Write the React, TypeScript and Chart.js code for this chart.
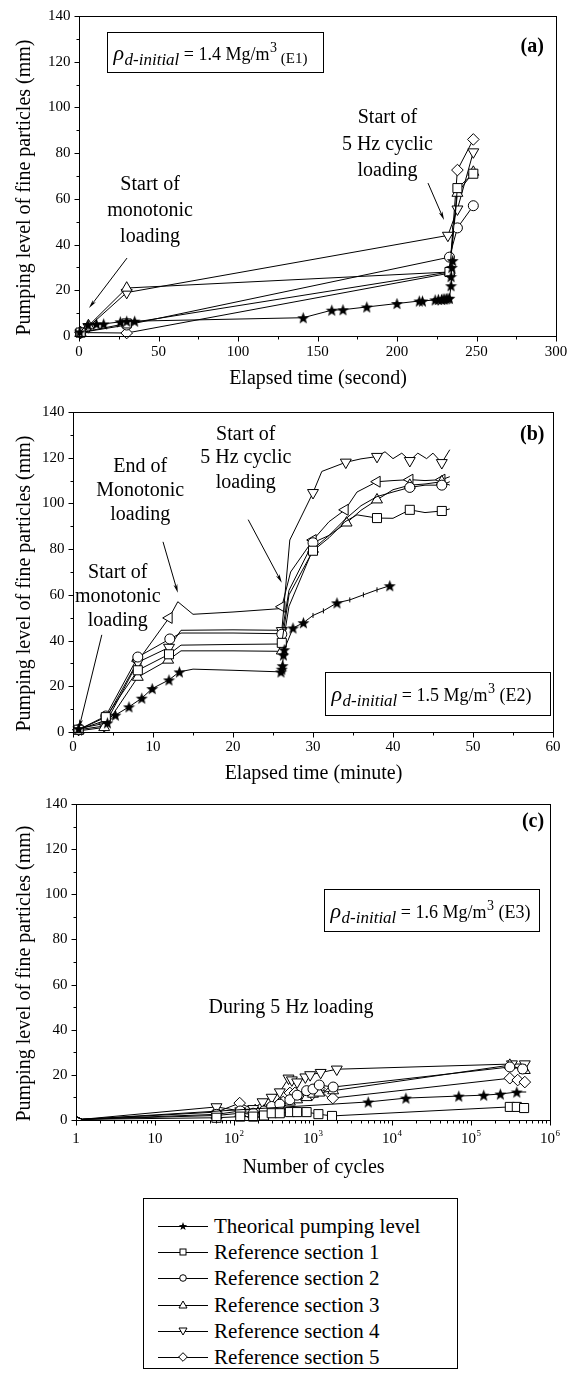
import React, { useEffect, useRef } from 'react';
import { Chart, registerables } from 'chart.js';

Chart.register(...registerables);

const FONT = '"Liberation Serif", "Times New Roman", Times, serif';

// ---------- shared text ----------
const SERIES_NAMES = [
  'Theorical pumping level',
  'Reference section 1',
  'Reference section 2',
  'Reference section 3',
  'Reference section 4',
  'Reference section 5',
];
const Y_TITLE = 'Pumping level of fine particles (mm)';
const Y_TICKS = [0, 20, 40, 60, 80, 100, 120, 140];
const Y_LABELS = ['0', '20', '40', '60', '80', '100', '120', '140'];
const Y_MINOR = [10, 30, 50, 70, 90, 110, 130];

// ---------- panel (a): elapsed time (second) ----------
const A_X_TICKS = [0, 50, 100, 150, 200, 250, 300];
const A_X_LABELS = ['0', '50', '100', '150', '200', '250', '300'];
const A_X_MINOR = [25, 75, 125, 175, 225, 275];

const A_STAR_T = [0.5, 5.7, 11, 15.5, 26, 30, 35, 141, 159, 166, 181, 200, 214, 216, 224, 226, 228, 229, 230, 231, 232, 233, 234, 234, 234.5, 235];
const A_STAR_V = [1.8, 5.0, 5.3, 5.3, 6.2, 6.5, 6.5, 8, 11.3, 11.5, 12.7, 14.2, 15.3, 15.3, 15.8, 16, 16, 16.2, 16.2, 16.3, 16.5, 16.5, 22, 26, 30, 33];
const A_SQ_T = [1, 30, 233, 238, 248];
const A_SQ_V = [1.5, 5.5, 28, 64.7, 71];
const A_CI_T = [1, 30, 233, 238, 248];
const A_CI_V = [1.5, 4.8, 34.5, 47.3, 57];
const A_UP_T = [1, 6, 30, 233, 238, 248];
const A_UP_V = [1.5, 4.5, 21, 28, 62.5, 71.7];
const A_DN_T = [1, 6, 30, 232, 238, 248];
const A_DN_V = [1.5, 4, 19, 44, 55.5, 80.5];
const A_DI_T = [1, 30, 233, 238, 248];
const A_DI_V = [1.5, 1.3, 27.5, 72.6, 86];

const A_NOTES = [
  { x: 44.7, y: 66, text: 'Start of' },
  { x: 44.7, y: 54.7, text: 'monotonic' },
  { x: 44.7, y: 43.3, text: 'loading' },
  { x: 194, y: 95.4, text: 'Start of' },
  { x: 194, y: 83.6, text: '5 Hz cyclic' },
  { x: 194, y: 72.2, text: 'loading' },
];
const A_ARROWS = [
  { x1: 30.2, y1: 34.1, x2: 6.3, y2: 12.2 },
  { x1: 219.5, y1: 66.9, x2: 229.6, y2: 50.7 },
];
const A_BOX = { x1: 17.6, x2: 153.5, y1: 133, y2: 115.5, value: '1.4', tag: '(E1)', smallTag: true };
const A_LABEL = { x: 285, y: 126.4, text: '(a)' };

// ---------- panel (b): elapsed time (minute) ----------
const B_X_TICKS = [0, 10, 20, 30, 40, 50, 60];
const B_X_LABELS = ['0', '10', '20', '30', '40', '50', '60'];
const B_X_MINOR = [5, 15, 25, 35, 45, 55];

const B_STAR_T = [0.7, 4.3, 5.3, 7.0, 8.6, 9.9, 12.0, 13.3, 15.0, 20.0, 26.0, 26.1, 26.2, 26.3, 26.4, 27.5, 28.8, 30.0, 31.3, 33.0, 34.6, 36.3, 38.0, 39.6];
const B_STAR_V = [1.5, 4.0, 7.4, 11.0, 14.8, 19.0, 22.8, 26.3, 27.5, 27.0, 26.3, 27.5, 29.0, 33.7, 36.0, 45.5, 47.8, 51.0, 53.0, 56.5, 57.8, 60.0, 62.2, 64.0];
const B_STAR_MARK = ['S', 'S', 'S', 'S', 'S', 'S', 'S', 'S', '', '', 'S', 'S', 'S', 'S', 'S', 'S', 'S', 'T', 'T', 'S', 'T', 'T', 'T', 'S'];

const B_SQ_T = [0.7, 4.1, 8.1, 12.0, 13.5, 20.0, 26.0, 26.1, 27.0, 30.0, 32.0, 34.0, 35.5, 38.0, 40.0, 42.1, 44.0, 46.1, 47.1];
const B_SQ_V = [1.0, 6.5, 27.0, 34.0, 38.0, 38.3, 38.5, 39.0, 60.0, 79.3, 85.0, 92.0, 95.0, 93.6, 93.5, 97.2, 96.0, 96.7, 97.6];
const B_SQ_MARK = [1, 1, 1, 1, 0, 0, 0, 1, 0, 1, 0, 0, 0, 1, 0, 1, 0, 1, 0];

const B_CI_T = [0.7, 4.1, 8.1, 12.1, 13.5, 20.0, 26.0, 26.1, 27.0, 30.0, 32.0, 34.0, 36.0, 38.0, 40.0, 42.1, 44.0, 46.1, 47.1];
const B_CI_V = [1.0, 7.0, 32.8, 40.7, 43.3, 43.3, 43.0, 42.8, 62.0, 82.8, 86.0, 93.0, 99.0, 103.0, 105.0, 107.0, 108.0, 108.0, 109.5];
const B_CI_MARK = [1, 1, 1, 1, 0, 0, 0, 1, 0, 1, 0, 0, 0, 0, 0, 1, 0, 1, 0];

const B_UP_T = [0.7, 3.9, 8.1, 11.9, 13.5, 20.0, 26.0, 26.1, 27.0, 30.0, 32.0, 34.2, 36.0, 38.0, 40.0, 42.1, 44.0, 46.1, 47.1];
const B_UP_V = [0.5, 2.0, 24.0, 31.5, 35.5, 35.5, 35.3, 35.5, 55.0, 80.0, 86.0, 91.5, 97.0, 101.6, 106.0, 108.0, 108.5, 109.5, 108.0];
const B_UP_MARK = [1, 1, 1, 1, 0, 0, 0, 1, 0, 1, 0, 1, 0, 1, 0, 1, 0, 1, 0];

const B_DN_T = [0.7, 3.9, 8.1, 12.0, 13.5, 20.0, 26.0, 26.1, 27.1, 30.0, 31.1, 34.1, 36.0, 38.0, 39.0, 40.0, 41.1, 42.1, 43.1, 44.2, 45.0, 46.1, 47.1];
const B_DN_V = [1.0, 2.6, 30.5, 37.0, 44.5, 44.7, 44.5, 44.3, 84.0, 104.7, 114.0, 118.0, 119.5, 120.5, 122.6, 119.6, 122.0, 118.7, 122.0, 119.6, 122.0, 117.8, 123.5];
const B_DN_MARK = [1, 1, 1, 1, 0, 0, 0, 1, 0, 1, 0, 1, 0, 1, 0, 0, 0, 1, 0, 0, 0, 1, 0];

const B_LT_T = [0.7, 4.0, 8.1, 12.0, 13.1, 15.0, 20.0, 26.0, 26.1, 27.2, 30.0, 32.0, 34.0, 35.5, 38.0, 40.0, 42.1, 44.0, 46.1, 47.1];
const B_LT_V = [1.0, 5.0, 31.0, 49.9, 57.0, 51.5, 52.5, 54.0, 54.8, 70.0, 84.0, 92.0, 97.2, 105.0, 109.5, 110.0, 110.4, 110.0, 110.4, 111.7];
const B_LT_MARK = [1, 0, 1, 1, 0, 0, 0, 0, 1, 0, 1, 0, 1, 0, 1, 0, 1, 0, 1, 0];

const B_NOTES = [
  { x: 5.6, y: 69.6, text: 'Start of' },
  { x: 5.6, y: 59.1, text: 'monotonic' },
  { x: 5.6, y: 48.6, text: 'loading' },
  { x: 8.4, y: 116, text: 'End of' },
  { x: 8.4, y: 105.6, text: 'Monotonic' },
  { x: 8.4, y: 95, text: 'loading' },
  { x: 21.6, y: 130, text: 'Start of' },
  { x: 21.6, y: 120, text: '5 Hz cyclic' },
  { x: 21.6, y: 109, text: 'loading' },
];
const B_ARROWS = [
  { x1: 3.6, y1: 42.5, x2: 0.75, y2: 1.75 },
  { x1: 11.25, y1: 83.2, x2: 13.1, y2: 60.9 },
  { x1: 21.9, y1: 92.9, x2: 26.1, y2: 65.3 },
];
const B_BOX = { x1: 31.5, x2: 59.6, y1: 26.3, y2: 7.4, value: '1.5', tag: '(E2)', smallTag: false };
const B_LABEL = { x: 57.4, y: 130, text: '(b)' };

// ---------- panel (c): number of cycles ----------
const C_X_TICKS = [1, 10, 100, 1000, 10000, 100000, 1000000];
const C_X_LABELS = ['1', '10', '10^2', '10^3', '10^4', '10^5', '10^6'];
const C_X_MINOR = C_X_TICKS.slice(0, -1).flatMap((d) => [2, 3, 4, 5, 6, 7, 8, 9].map((k) => k * d));

const C_STAR_N = [1, 1.2, 5000, 15000, 70000, 145000, 235000, 380000, 500000];
const C_STAR_V = [1.5, 0.3, 8, 9.7, 10.6, 11, 11.5, 12.4, 12.4];
const C_STAR_MARK = [0, 0, 1, 1, 1, 1, 1, 1, 0];
const C_SQ_N = [1, 1.2, 60, 120, 175, 240, 300, 380, 510, 630, 830, 1170, 1740, 310000, 380000, 470000];
const C_SQ_V = [1.5, 0.3, 1.0, 1.5, 1.5, 2.0, 3.0, 3.0, 3.5, 3.5, 3.5, 2.6, 1.8, 5.8, 5.8, 5.3];
const C_CI_N = [1, 1.2, 60, 120, 175, 240, 300, 380, 510, 630, 830, 1000, 1200, 1800, 310000, 450000];
const C_CI_V = [1.5, 0.3, 2.5, 4, 3, 4, 6, 7, 9, 11, 13, 13.7, 15.5, 14.6, 23.5, 22.6];
const C_UP_N = [1, 1.2, 60, 120, 175, 240, 300, 380, 510, 630, 830, 1000, 1200, 1800, 310000, 480000];
const C_UP_V = [1.5, 0.3, 2, 3, 2.5, 4, 5, 6, 8, 9, 10, 11.5, 12, 13, 24.3, 22];
const C_DN_N = [1, 1.2, 60, 120, 175, 230, 300, 380, 490, 540, 630, 800, 920, 1250, 2000, 330000, 480000];
const C_DN_V = [1.5, 0.3, 5.8, 4, 5, 8, 10, 12.4, 18.5, 17.7, 16.8, 19, 20, 21, 22.5, 24.8, 24.8];
const C_DI_N = [1, 1.2, 60, 118, 185, 245, 300, 380, 420, 510, 590, 820, 950, 1200, 1600, 1780, 310000, 390000, 480000];
const C_DI_V = [1.5, 0.3, 3.5, 7.5, 4.4, 4.9, 6.2, 7.5, 8, 12, 12, 12, 11, 14, 12, 9.7, 18.5, 17.7, 16.8];

const C_NOTES = [{ x: 527, y: 49.6, text: 'During 5 Hz loading' }];
const C_BOX = { x1: 1380, x2: 724000, y1: 102.2, y2: 83.6, value: '1.6', tag: '(E3)', smallTag: false };
const C_LABEL = { x: 609000, y: 131.9, text: '(c)' };

// ---------- helpers ----------
function makeStarCanvas(size: number) {
  const c = document.createElement('canvas');
  c.width = size;
  c.height = size;
  const g = c.getContext('2d') as CanvasRenderingContext2D;
  const cx = size / 2;
  const cy = size / 2 + 0.6;
  const R = size / 2 - 0.2;
  const r = R * 0.42;
  g.beginPath();
  for (let i = 0; i < 10; i++) {
    const a = -Math.PI / 2 + (i * Math.PI) / 5;
    const rr = i % 2 ? r : R;
    const x = cx + rr * Math.cos(a);
    const y = cy + rr * Math.sin(a);
    if (i) g.lineTo(x, y);
    else g.moveTo(x, y);
  }
  g.closePath();
  g.fillStyle = '#000';
  g.fill();
  return c;
}

type Marker = 'star' | 'square' | 'circle' | 'up' | 'down' | 'left' | 'diamond';

function markerStyle(m: Marker, star: any) {
  switch (m) {
    case 'star':
      return { style: star, r: 5, rot: 0 };
    case 'square':
      return { style: 'rect', r: 6.4, rot: 0 };
    case 'circle':
      return { style: 'circle', r: 5, rot: 0 };
    case 'up':
      return { style: 'triangle', r: 6.3, rot: 0 };
    case 'down':
      return { style: 'triangle', r: 6.3, rot: 180 };
    case 'left':
      return { style: 'triangle', r: 6.3, rot: 270 };
    default:
      return { style: 'rectRot', r: 5.8, rot: 0 };
  }
}

function series(xs: number[], ys: number[], m: Marker, star: any, marks?: number[]) {
  const s = markerStyle(m, star);
  return {
    data: xs.map((x, i) => ({ x, y: ys[i] })),
    showLine: true,
    borderColor: '#000',
    borderWidth: 1,
    tension: 0,
    pointStyle: s.style,
    pointRotation: s.rot,
    pointRadius: marks ? marks.map((k) => (k ? s.r : 0)) : s.r,
    pointHoverRadius: 0,
    pointBackgroundColor: m === 'star' ? '#000' : '#fff',
    pointBorderColor: '#000',
    pointBorderWidth: 1,
    clip: 8,
  };
}

function drawArrow(ctx: CanvasRenderingContext2D, x1: number, y1: number, x2: number, y2: number) {
  const a = Math.atan2(y2 - y1, x2 - x1);
  const len = 9;
  const s = 0.22;
  ctx.beginPath();
  ctx.moveTo(x1, y1);
  ctx.lineTo(x2 - Math.cos(a) * 4, y2 - Math.sin(a) * 4);
  ctx.stroke();
  ctx.beginPath();
  ctx.moveTo(x2, y2);
  ctx.lineTo(x2 - len * Math.cos(a - s), y2 - len * Math.sin(a - s));
  ctx.lineTo(x2 - len * 0.7 * Math.cos(a), y2 - len * 0.7 * Math.sin(a));
  ctx.lineTo(x2 - len * Math.cos(a + s), y2 - len * Math.sin(a + s));
  ctx.closePath();
  ctx.fill();
}

function drawRhoText(ctx: CanvasRenderingContext2D, x: number, base: number, value: string, tag: string, smallTag: boolean) {
  let cx = x;
  ctx.textAlign = 'left';
  ctx.textBaseline = 'alphabetic';
  ctx.font = `italic 22px ${FONT}`;
  ctx.fillText('\u03C1', cx, base);
  cx += ctx.measureText('\u03C1').width + 0.5;
  ctx.font = `italic 17px ${FONT}`;
  ctx.fillText('d-initial', cx, base + 5);
  cx += ctx.measureText('d-initial').width;
  ctx.font = `18px ${FONT}`;
  const main = ` = ${value} Mg/m`;
  ctx.fillText(main, cx, base);
  cx += ctx.measureText(main).width + 0.5;
  ctx.font = `14px ${FONT}`;
  ctx.fillText('3', cx, base - 8);
  cx += ctx.measureText('3').width;
  if (smallTag) {
    ctx.font = `15px ${FONT}`;
    ctx.fillText(' ' + tag, cx, base + 3);
  } else {
    ctx.font = `18px ${FONT}`;
    ctx.fillText(' ' + tag, cx, base);
  }
}

function drawTickLabel(ctx: CanvasRenderingContext2D, label: string, x: number, y: number) {
  const parts = label.split('^');
  ctx.textBaseline = 'middle';
  ctx.textAlign = 'left';
  ctx.font = `15px ${FONT}`;
  const wb = ctx.measureText(parts[0]).width;
  let we = 0;
  if (parts[1]) {
    ctx.font = `9px ${FONT}`;
    we = ctx.measureText(parts[1]).width + 0.5;
  }
  const x0 = x - (wb + we) / 2;
  ctx.font = `15px ${FONT}`;
  ctx.fillText(parts[0], x0, y);
  if (parts[1]) {
    ctx.font = `9px ${FONT}`;
    ctx.fillText(parts[1], x0 + wb + 0.5, y - 6);
  }
}

function decorPlugin(cfg: any) {
  return {
    id: 'decor',
    afterDraw(chart: any) {
      const { ctx, chartArea: ca } = chart;
      const xs = chart.scales.x;
      const ys = chart.scales.y;
      const L = Math.round(ca.left) + 0.5;
      const R = Math.round(ca.right) + 0.5;
      const T = Math.round(ca.top) + 0.5;
      const B = Math.round(ca.bottom) + 0.5;
      ctx.save();
      ctx.strokeStyle = '#000';
      ctx.fillStyle = '#000';
      ctx.lineWidth = 1;
      ctx.strokeRect(L, T, R - L, B - T);
      ctx.beginPath();
      cfg.xTicks.forEach((v: number) => {
        const p = Math.round(xs.getPixelForValue(v)) + 0.5;
        ctx.moveTo(p, B);
        ctx.lineTo(p, B + 5);
      });
      cfg.xMinor.forEach((v: number) => {
        const p = Math.round(xs.getPixelForValue(v)) + 0.5;
        ctx.moveTo(p, B);
        ctx.lineTo(p, B + 3);
      });
      Y_TICKS.forEach((v) => {
        const p = Math.round(ys.getPixelForValue(v)) + 0.5;
        ctx.moveTo(L - 5, p);
        ctx.lineTo(L, p);
      });
      Y_MINOR.forEach((v) => {
        const p = Math.round(ys.getPixelForValue(v)) + 0.5;
        ctx.moveTo(L - 3, p);
        ctx.lineTo(L, p);
      });
      ctx.stroke();

      // tick labels
      cfg.xLabels.forEach((lab: string, i: number) => {
        drawTickLabel(ctx, lab, xs.getPixelForValue(cfg.xTicks[i]), B + cfg.xLabelGap);
      });
      ctx.font = `15px ${FONT}`;
      ctx.textAlign = 'right';
      ctx.textBaseline = 'middle';
      Y_TICKS.forEach((v, i) => ctx.fillText(Y_LABELS[i], L - 9, ys.getPixelForValue(v)));

      // axis titles
      ctx.font = `20px ${FONT}`;
      ctx.textAlign = 'center';
      ctx.textBaseline = 'middle';
      ctx.fillText(cfg.xTitle, (L + R) / 2, cfg.xTitleY);
      ctx.save();
      ctx.translate(25, (T + B) / 2 + 11);
      ctx.rotate(-Math.PI / 2);
      ctx.fillText(Y_TITLE, 0, 0);
      ctx.restore();

      // notes
      ctx.font = `20px ${FONT}`;
      cfg.notes.forEach((n: any) => {
        ctx.fillText(n.text, xs.getPixelForValue(n.x), ys.getPixelForValue(n.y));
      });
      cfg.arrows.forEach((a: any) => {
        drawArrow(ctx, xs.getPixelForValue(a.x1), ys.getPixelForValue(a.y1), xs.getPixelForValue(a.x2), ys.getPixelForValue(a.y2));
      });

      // density box
      const b = cfg.box;
      const bx1 = Math.round(xs.getPixelForValue(b.x1)) + 0.5;
      const bx2 = Math.round(xs.getPixelForValue(b.x2)) + 0.5;
      const by1 = Math.round(ys.getPixelForValue(b.y1)) + 0.5;
      const by2 = Math.round(ys.getPixelForValue(b.y2)) + 0.5;
      ctx.fillStyle = '#fff';
      ctx.fillRect(bx1, by1, bx2 - bx1, by2 - by1);
      ctx.fillStyle = '#000';
      ctx.strokeRect(bx1, by1, bx2 - bx1, by2 - by1);
      drawRhoText(ctx, bx1 + 6, (by1 + by2) / 2 + 7, b.value, b.tag, b.smallTag);

      // panel label
      ctx.font = `bold 20px ${FONT}`;
      ctx.textAlign = 'center';
      ctx.textBaseline = 'middle';
      ctx.fillText(cfg.label.text, xs.getPixelForValue(cfg.label.x), ys.getPixelForValue(cfg.label.y));
      ctx.restore();
    },
  };
}

function makeChart(canvas: HTMLCanvasElement, datasets: any[], xScale: any, padding: any, cfg: any) {
  return new Chart(canvas, {
    type: 'scatter',
    data: { datasets },
    options: {
      animation: false,
      responsive: false,
      devicePixelRatio: 1,
      events: [],
      layout: { padding },
      plugins: { legend: { display: false }, tooltip: { enabled: false } },
      scales: {
        x: { ...xScale, display: false },
        y: { type: 'linear', min: 0, max: 140, display: false },
      },
    } as any,
    plugins: [decorPlugin(cfg)],
  });
}

// ---------- legend symbols ----------
function LegendSymbol({ kind }: { kind: number }) {
  const cx = 25;
  const cy = 8;
  let shape: any = null;
  if (kind === 0) {
    const pts: string[] = [];
    for (let i = 0; i < 10; i++) {
      const a = -Math.PI / 2 + (i * Math.PI) / 5;
      const rr = i % 2 ? 1.8 : 4.4;
      pts.push(`${cx + rr * Math.cos(a)},${cy + 0.5 + rr * Math.sin(a)}`);
    }
    shape = <polygon points={pts.join(' ')} fill="#000" />;
  } else if (kind === 1) {
    shape = <rect x={cx - 3} y={cy - 3} width={6} height={6} fill="#fff" stroke="#000" />;
  } else if (kind === 2) {
    shape = <circle cx={cx} cy={cy} r={3.3} fill="#fff" stroke="#000" />;
  } else if (kind === 3) {
    shape = <polygon points={`${cx},${cy - 4} ${cx + 4},${cy + 3} ${cx - 4},${cy + 3}`} fill="#fff" stroke="#000" />;
  } else if (kind === 4) {
    shape = <polygon points={`${cx},${cy + 4} ${cx + 4},${cy - 3} ${cx - 4},${cy - 3}`} fill="#fff" stroke="#000" />;
  } else {
    shape = <polygon points={`${cx},${cy - 4.3} ${cx + 4.3},${cy} ${cx},${cy + 4.3} ${cx - 4.3},${cy}`} fill="#fff" stroke="#000" />;
  }
  return (
    <svg width={50} height={16} style={{ display: 'block' }}>
      <line x1={0} y1={cy + 0.5} x2={50} y2={cy + 0.5} stroke="#000" strokeWidth={1} />
      {shape}
    </svg>
  );
}

export default function App() {
  const refA = useRef<HTMLCanvasElement>(null);
  const refB = useRef<HTMLCanvasElement>(null);
  const refC = useRef<HTMLCanvasElement>(null);

  useEffect(() => {
    const star = makeStarCanvas(13);
    const charts: Chart[] = [];

    charts.push(
      makeChart(
        refA.current as HTMLCanvasElement,
        [
          series(A_STAR_T, A_STAR_V, 'star', star),
          series(A_SQ_T, A_SQ_V, 'square', star),
          series(A_CI_T, A_CI_V, 'circle', star),
          series(A_UP_T, A_UP_V, 'up', star),
          series(A_DN_T, A_DN_V, 'down', star),
          series(A_DI_T, A_DI_V, 'diamond', star),
        ],
        { type: 'linear', min: 0, max: 300 },
        { left: 79, right: 18, top: 16, bottom: 64 },
        {
          xTicks: A_X_TICKS, xLabels: A_X_LABELS, xMinor: A_X_MINOR, xLabelGap: 16,
          xTitle: 'Elapsed time (second)', xTitleY: 379,
          notes: A_NOTES, arrows: A_ARROWS, box: A_BOX, label: A_LABEL,
        }
      )
    );

    const bStar: any = series(B_STAR_T, B_STAR_V, 'star', star);
    bStar.pointStyle = B_STAR_MARK.map((k) => (k === 'T' ? 'line' : k === 'S' ? star : 'circle'));
    bStar.pointRotation = B_STAR_MARK.map((k) => (k === 'T' ? 90 : 0));
    bStar.pointRadius = B_STAR_MARK.map((k) => (k === 'T' ? 2.5 : k === 'S' ? 5 : 0));

    charts.push(
      makeChart(
        refB.current as HTMLCanvasElement,
        [
          bStar,
          series(B_SQ_T, B_SQ_V, 'square', star, B_SQ_MARK),
          series(B_CI_T, B_CI_V, 'circle', star, B_CI_MARK),
          series(B_UP_T, B_UP_V, 'up', star, B_UP_MARK),
          series(B_DN_T, B_DN_V, 'down', star, B_DN_MARK),
          series(B_LT_T, B_LT_V, 'left', star, B_LT_MARK),
        ],
        { type: 'linear', min: 0, max: 60 },
        { left: 73, right: 21, top: 12, bottom: 68 },
        {
          xTicks: B_X_TICKS, xLabels: B_X_LABELS, xMinor: B_X_MINOR, xLabelGap: 15,
          xTitle: 'Elapsed time (minute)', xTitleY: 374,
          notes: B_NOTES, arrows: B_ARROWS, box: B_BOX, label: B_LABEL,
        }
      )
    );

    const firstTwoHidden = (n: number) => Array.from({ length: n }, (_, i) => (i < 2 ? 0 : 1));
    charts.push(
      makeChart(
        refC.current as HTMLCanvasElement,
        [
          series(C_STAR_N, C_STAR_V, 'star', star, C_STAR_MARK),
          series(C_SQ_N, C_SQ_V, 'square', star, firstTwoHidden(C_SQ_N.length)),
          series(C_CI_N, C_CI_V, 'circle', star, firstTwoHidden(C_CI_N.length)),
          series(C_UP_N, C_UP_V, 'up', star, firstTwoHidden(C_UP_N.length)),
          series(C_DN_N, C_DN_V, 'down', star, firstTwoHidden(C_DN_N.length)),
          series(C_DI_N, C_DI_V, 'diamond', star, firstTwoHidden(C_DI_N.length)),
        ],
        { type: 'logarithmic', min: 1, max: 1000000 },
        { left: 76, right: 24, top: 14, bottom: 70 },
        {
          xTicks: C_X_TICKS, xLabels: C_X_LABELS, xMinor: C_X_MINOR, xLabelGap: 19,
          xTitle: 'Number of cycles', xTitleY: 378,
          notes: C_NOTES, arrows: [], box: C_BOX, label: C_LABEL,
        }
      )
    );

    return () => charts.forEach((c) => c.destroy());
  }, []);

  const canvasStyle = (top: number): React.CSSProperties => ({
    position: 'absolute', left: 0, top, width: 574, height: 400, display: 'block',
  });

  return (
    <div style={{ position: 'absolute', left: 0, top: 0, width: 574, height: 1378, background: '#fff', overflow: 'hidden' }}>
      <canvas ref={refA} width={574} height={400} style={canvasStyle(0)} />
      <canvas ref={refB} width={574} height={400} style={canvasStyle(400)} />
      <canvas ref={refC} width={574} height={400} style={canvasStyle(790)} />
      <div
        style={{
          position: 'absolute', left: 143, top: 1198, width: 315, height: 171,
          border: '1px solid #000', boxSizing: 'border-box', background: '#fff',
        }}
      >
        {SERIES_NAMES.map((name, i) => (
          <div
            key={name}
            style={{
              position: 'absolute', left: 14, top: 27 + i * 26.2 - 13, height: 26,
              display: 'flex', alignItems: 'center',
            }}
          >
            <LegendSymbol kind={i} />
            <span style={{ marginLeft: 6, fontFamily: FONT, fontSize: 21, lineHeight: '26px', whiteSpace: 'nowrap', color: '#000' }}>
              {name}
            </span>
          </div>
        ))}
      </div>
    </div>
  );
}
